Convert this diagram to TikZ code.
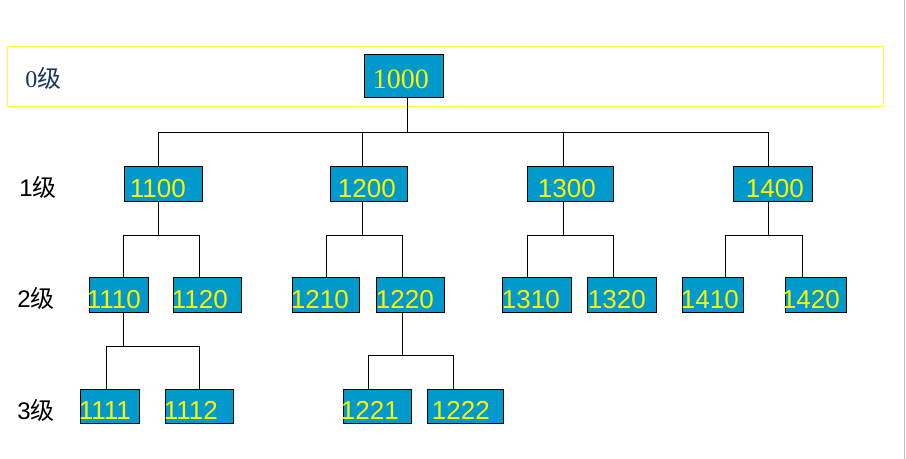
\documentclass[tikz,border=0pt]{standalone}
\usepackage{fontspec}
\setmainfont{Liberation Serif}
\setsansfont{Liberation Sans}
\newfontfamily\cjk{Noto Sans CJK SC}

\definecolor{boxblue}{RGB}{0,153,204}
\definecolor{frameyellow}{RGB}{250,250,60}
\definecolor{lvlblue}{RGB}{23,55,94}

\def\px{0.5pt}
% box with its stem x and its number
\newcommand\nbox[7][]{%
  \node[box, minimum width=#5*\px, #1] (n#2) at (#3,#4) {};
  \coordinate (s#2) at (#6,0);
  \node[num, anchor=base west] (t#2) at ([xshift=#7*\px, yshift=5*\px] n#2.south west) {#2};
}
% parent, bar y, children
\newcommand\fork[3]{%
  \draw[tree] (s#1 |- n#1.south) -- (s#1 |- 0,#2);
  \foreach \ch in {#3} \draw[tree] (s#1 |- 0,#2) -| (s\ch |- n\ch.north);
}

\begin{document}
\begin{tikzpicture}
    [x=0.5pt, y=-0.5pt,
    box/.style={draw, fill=boxblue, line width=0.5pt, minimum height=35*\px, inner sep=0pt},
    num/.style={text=yellow, inner sep=0pt, font=\sffamily\fontsize{13}{15}\selectfont},
    tree/.style={line width=0.5pt},
    lvl/.style={anchor=base west, inner sep=0pt, font=\sffamily\fontsize{12}{14}\selectfont}]
    \useasboundingbox (0,0) rectangle (906,459);
    \draw[frameyellow, line width=0.5pt] (7,47) rectangle (883,107);
    \draw[gray!50, line width=0.5pt] (904.5,0) -- (904.5,459);

    \node[lvl, text=lvlblue, font=\rmfamily\fontsize{12}{14}\selectfont] (l0) at (25,88) {0{\cjk 级}};
    \node[lvl] (l1) at (19,197) {1{\cjk 级}};
    \node[lvl] (l2) at (17,308) {2{\cjk 级}};
    \node[lvl] (l3) at (17,420) {3{\cjk 级}};

    \node[box, minimum width=79*\px, minimum height=43*\px] (n1000) at (403.5,76.5) {};
    \coordinate (s1000) at (407,0);
    \node[num, anchor=base west, font=\rmfamily\fontsize{14}{16}\selectfont] (t1000)
        at ([xshift=9*\px, yshift=10*\px] n1000.south west) {1000};

    \nbox{1100}{163}{184.5}{78}{158}{6}
    \nbox{1200}{368.5}{184.5}{77}{362}{8}
    \nbox{1300}{570}{184.5}{86}{563}{11}
    \nbox{1400}{772.5}{184.5}{79}{768}{13}

    \nbox{1110}{118.5}{295.5}{59}{123}{-2}
    \nbox{1120}{207}{295.5}{68}{199}{-1}
    \nbox{1210}{325.5}{295.5}{67}{326}{-1}
    \nbox{1220}{410}{295.5}{68}{402}{0}
    \nbox{1310}{536.5}{295.5}{69}{527}{0}
    \nbox{1320}{621.5}{295.5}{69}{613}{1}
    \nbox{1410}{712.5}{295.5}{61}{725}{-1}
    \nbox{1420}{815.5}{295.5}{61}{802}{-3}

    \nbox[minimum height=34*\px]{1111}{109.5}{407}{59}{106}{-1}
    \nbox[minimum height=34*\px]{1112}{199}{407}{68}{199}{-1}
    \nbox[minimum height=34*\px]{1221}{377}{407}{68}{368}{-2}
    \nbox[minimum height=34*\px]{1222}{465}{407}{76}{453}{5}

    \fork{1000}{133}{1100,1200,1300,1400}
    \fork{1100}{236}{1110,1120}
    \fork{1200}{236}{1210,1220}
    \fork{1300}{236}{1310,1320}
    \fork{1400}{236}{1410,1420}
    \fork{1110}{347}{1111,1112}
    \fork{1220}{356}{1221,1222}
\end{tikzpicture}
\end{document}
